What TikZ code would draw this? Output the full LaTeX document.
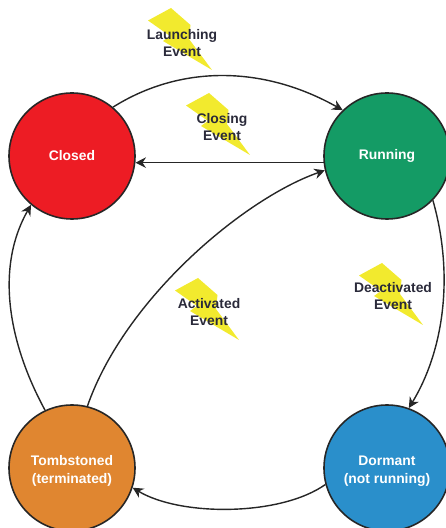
\documentclass[tikz,border=0pt]{standalone}
\usepackage{fontspec}
\setmainfont{Liberation Sans}
\usepackage{xcolor}
\usetikzlibrary{calc,arrows.meta}
\definecolor{closedred}{HTML}{ED1C24}
\definecolor{runninggreen}{HTML}{149B65}
\definecolor{dormantblue}{HTML}{2A8FCB}
\definecolor{tombstoneorange}{HTML}{E08630}
\definecolor{boltyellow}{HTML}{F2EA2E}
\definecolor{eventtext}{HTML}{2A2A3A}
\tikzset{
  state/.style={circle,draw=black!85,line width=0.9pt,minimum size=2.52cm,inner sep=0pt,align=center,text=white,font=\fontsize{7.9}{10.2}\selectfont\bfseries},
  event/.style={align=center,text=eventtext,font=\fontsize{7.9}{10}\selectfont\bfseries,inner sep=0pt},
  trans/.style={line width=0.8pt,black!85,-{Stealth[length=6pt,width=6pt,inset=2pt]}}
}
\newcommand{\bolt}[2]{\fill[boltyellow,shift={(#1,#2)}] (0,0) -- (-0.46,-0.25) -- (-0.02,-0.56) -- (-0.16,-0.66) -- (0.82,-1.24) -- (0.36,-0.62) -- (0.39,-0.34) -- cycle;}

\begin{document}
\begin{tikzpicture}
  \useasboundingbox (0,0) rectangle (8.92,10.56);
  % Lightning bolts
  \bolt{3.42}{10.40}
  \bolt{4.18}{8.70}
  \bolt{3.96}{5.00}
  \bolt{7.64}{5.30}

  % States
  \node[state,fill=closedred] (closed) at (1.44,7.44) {Closed};
  \node[state,fill=runninggreen] (running) at (7.74,7.44) {Running};
  \node[state,fill=tombstoneorange] (tombstoned) at (1.44,1.20) {\rule{0pt}{8.6pt}Tombstoned\\(terminated)};
  \node[state,fill=dormantblue] (dormant) at (7.74,1.20) {\rule{0pt}{8.6pt}Dormant\\(not running)};

  % Events
  \node[event] (launching) at (3.64,9.70) {Launching\\Event};
  \node[event] (closing) at (4.44,8.02) {Closing\\Event};
  \node[event] (activated) at (4.18,4.32) {Activated\\Event};
  \node[event] (deactivated) at (7.86,4.64) {Deactivated\\Event};

  % Transitions
  \draw[trans] (closed.50) .. controls (3.6,9.26) and (5.25,9.26) .. (running.134);
  \draw[trans] (running.186) -- (closed.354);
  \draw[trans] (running.-44) .. controls (9.1,5.0) and (8.85,3.5) .. (dormant.70);
  \draw[trans] (dormant.195) .. controls (5.6,0.23) and (3.6,0.23) .. (tombstoned.-18);
  \draw[trans] (tombstoned.76) .. controls (2.5,4.6) and (4.9,6.6) .. (running.193);
  \draw[trans] (tombstoned.115) .. controls (0.17,3.7) and (-0.1,5.2) .. (closed.230);
\end{tikzpicture}
\end{document}
